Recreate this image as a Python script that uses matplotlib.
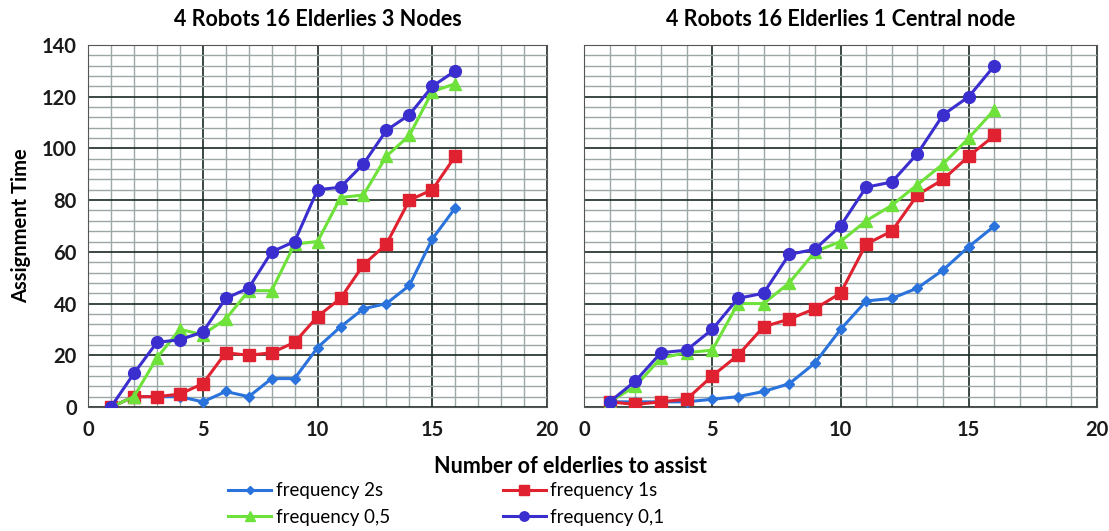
import matplotlib.pyplot as plt
from matplotlib.ticker import MultipleLocator

plt.rcParams['font.family'] = ['Lato', 'DejaVu Sans']

x = list(range(1, 17))

# 3 nodes
left_2s = [0, 4, 4, 4, 2, 6, 4, 11, 11, 23, 31, 38, 40, 47, 65, 77]
left_1s = [0, 4, 4, 5, 9, 21, 20, 21, 25, 35, 42, 55, 63, 80, 84, 97]
left_05 = [0, 4, 19, 30, 28, 34, 45, 45, 63, 64, 81, 82, 97, 105, 122, 125]
left_01 = [0, 13, 25, 26, 29, 42, 46, 60, 64, 84, 85, 94, 107, 113, 124, 130]

# 1 central node
right_2s = [2, 2, 2, 2, 3, 4, 6, 9, 17, 30, 41, 42, 46, 53, 62, 70]
right_1s = [2, 1, 2, 3, 12, 20, 31, 34, 38, 44, 63, 68, 82, 88, 97, 105]
right_05 = [2, 8, 19, 21, 22, 40, 40, 48, 60, 64, 72, 78, 86, 94, 104, 115]
right_01 = [2, 10, 21, 22, 30, 42, 44, 59, 61, 70, 85, 87, 98, 113, 120, 132]

titles = ["4 Robots 16 Elderlies 3 Nodes", "4 Robots 16 Elderlies 1 Central node"]
labels = ["frequency 2s", "frequency 1s", "frequency 0,5", "frequency 0,1"]

styles = [
    dict(color="#2a72dc", marker="D", markersize=5),
    dict(color="#e02230", marker="s", markersize=8.5),
    dict(color="#6ee23a", marker="^", markersize=8.5),
    dict(color="#3b2ecf", marker="o", markersize=8.5),
]

fig = plt.figure(figsize=(11.09, 5.31), dpi=100)
ax1 = fig.add_axes([0.0794, 0.2335, 0.4139, 0.6818])
ax2 = fig.add_axes([0.5266, 0.2335, 0.4626, 0.6818])

panels = [(ax1, [left_2s, left_1s, left_05, left_01]),
          (ax2, [right_2s, right_1s, right_05, right_01])]

handles = []
for i, (ax, series) in enumerate(panels):
    for ys, st, lab in zip(series, styles, labels):
        h, = ax.plot(x, ys, lw=2.2, label=lab, zorder=3, **st)
        if i == 0:
            handles.append(h)
    ax.set_xlim(0, 20)
    ax.set_ylim(0, 140)
    ax.xaxis.set_major_locator(MultipleLocator(5))
    ax.xaxis.set_minor_locator(MultipleLocator(1))
    ax.yaxis.set_major_locator(MultipleLocator(20))
    ax.yaxis.set_minor_locator(MultipleLocator(4))
    ax.grid(which="minor", color="#9aa8a8", lw=1.0)
    ax.grid(which="major", color="#1a2a22", lw=1.2)
    ax.set_axisbelow(True)
    for s in ax.spines.values():
        s.set_color("#555555")
    ax.tick_params(which="both", length=0, labelsize=14.5, colors="#1a1a1a", pad=8)
    ax.tick_params(axis="x", pad=9)
    ax.set_title(titles[i], fontsize=15.5, fontweight="bold", pad=14)

ax2.tick_params(axis="y", labelleft=False)
for lab in ax1.get_xticklabels() + ax1.get_yticklabels() + ax2.get_xticklabels():
    lab.set_fontweight("bold")

ax1.set_ylabel("Assignment Time", fontsize=14.5, fontweight="bold", labelpad=8)
fig.text(0.514, 0.122, "Number of elderlies to assist", ha="center", va="center",
         fontsize=15.5, fontweight="bold")

# column-wise fill: 2s, 0,5 | 1s, 0,1
order = [0, 2, 1, 3]
fig.legend([handles[k] for k in order], [labels[k] for k in order],
           loc="upper left", bbox_to_anchor=(0.2056, 0.092), ncol=2,
           frameon=False, fontsize=13.5, handlelength=2.3, handletextpad=0.25,
           columnspacing=6.0, labelspacing=0.5, markerscale=0.8,
           borderpad=0, borderaxespad=0)

fig.savefig("out.png", dpi=100)
